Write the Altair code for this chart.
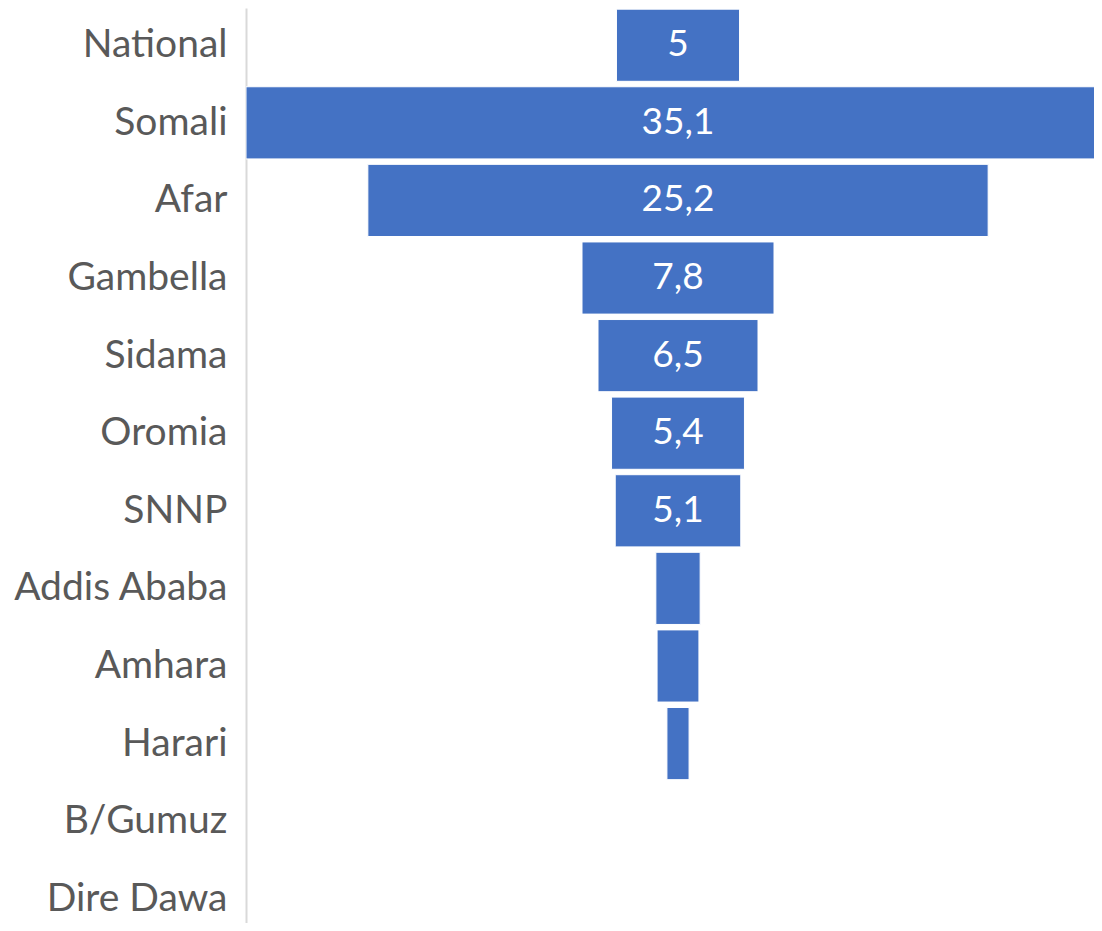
import altair as alt
import pandas as pd

regions = ["National", "Somali", "Afar", "Gambella", "Sidama", "Oromia", "SNNP",
           "Addis Ababa", "Amhara", "Harari", "B/Gumuz", "Dire Dawa"]
values = [5.0, 35.1, 25.2, 7.8, 6.5, 5.4, 5.1, 1.8, 1.7, 0.9, 0.0, 0.0]
bar_labels = ["5", "35,1", "25,2", "7,8", "6,5", "5,4", "5,1", "", "", "", "", ""]

df = pd.DataFrame({"region": regions, "value": values, "label": bar_labels})
df["lo"] = -df["value"] / 2
df["hi"] = df["value"] / 2

FONT = "Lato"
xscale = alt.Scale(domain=[-17.55, 16.9], nice=False, zero=False)
yscale = alt.Scale(domain=regions, range=[0, 928], paddingInner=0.07, paddingOuter=0.015)

base = alt.Chart(df)

bars = base.mark_bar(color="#4472C4", stroke="#ffffff", strokeWidth=1, clip=True).encode(
    y=alt.Y("region:N", sort=regions, scale=yscale,
            axis=alt.Axis(title=None, ticks=False, grid=False, labelFontSize=39,
                          labelFont=FONT, labelColor="#595959", labelPadding=19,
                          domainColor="#d9d9d9", domainWidth=2, labelLimit=0)),
    x=alt.X("lo:Q", scale=xscale, axis=None),
    x2="hi:Q",
)

text = base.mark_text(color="white", fontSize=37, font=FONT, baseline="middle", align="center").encode(
    y=alt.Y("region:N", sort=regions, scale=yscale),
    x=alt.value(432),
    text="label:N",
)

chart = (bars + text).properties(
    width=848, height=915,
    autosize=alt.AutoSizeParams(type="none"),
    padding={"left": 238, "top": 0, "right": 0, "bottom": 0},
).configure_view(stroke=None)

chart.save("out.html", embed_options={"renderer": "svg", "actions": False})
